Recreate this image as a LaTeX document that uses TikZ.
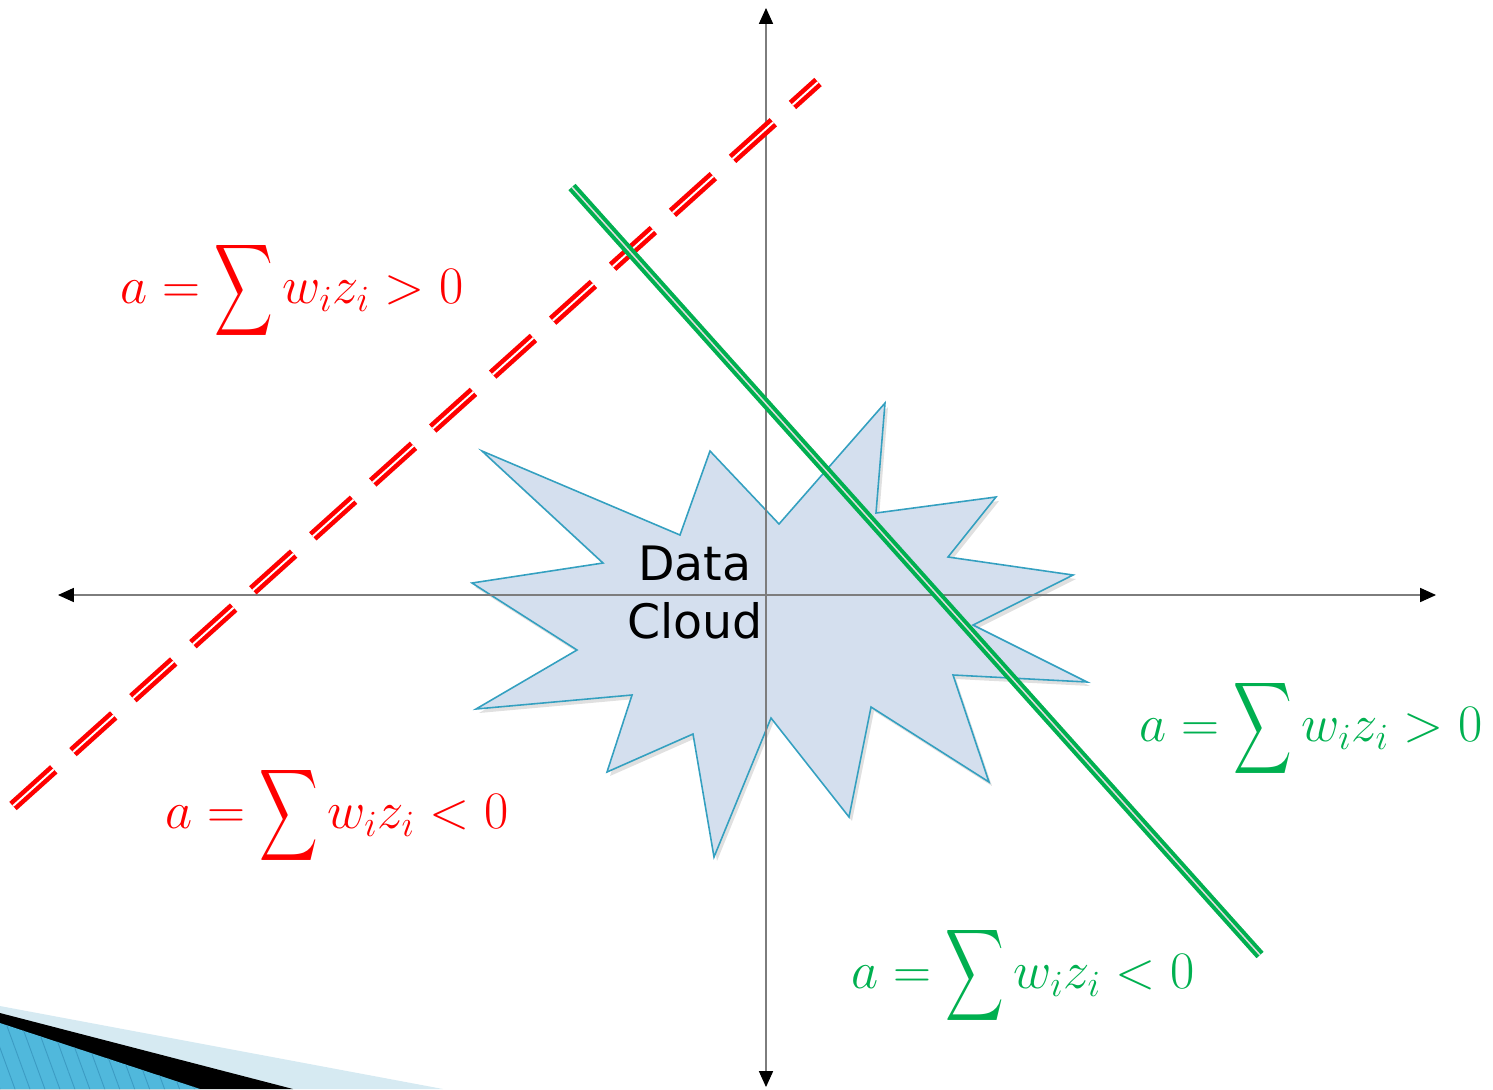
\RequirePackage{fix-cm}
\documentclass[tikz,border=0pt]{standalone}
\usepackage{exscale}
\usepackage{graphicx}
\usepackage{fontspec}
\newfontfamily\cloudfont{DejaVu Sans}
\usetikzlibrary{arrows.meta,patterns.meta}
\definecolor{pgreen}{HTML}{00B050}
\definecolor{pred}{HTML}{FF0000}
\definecolor{starfill}{RGB}{212,223,238}
\definecolor{stardraw}{RGB}{52,160,192}
\definecolor{axisgray}{RGB}{125,125,125}
\definecolor{decolight}{RGB}{214,234,242}
\definecolor{decoblue}{RGB}{80,184,220}
\definecolor{decostripe}{RGB}{60,155,195}
\newcommand\mybigsum{\mathop{\vcenter{\hbox{\scalebox{0.93}[1.47]{$\displaystyle\sum$}}}}}
\tikzset{
  axisline/.style={draw=axisgray, line width=0.6pt,
    {Triangle[length=9pt,width=8pt,color=black]}-{Triangle[length=9pt,width=8pt,color=black]}},
  starshape/.style={fill=starfill, draw=stardraw, line width=0.9pt, line join=miter},
  shadowline/.style={draw=black, opacity=0.12},
  redmain/.style={draw=pred, line width=6.3pt, dash pattern=on 31.2pt off 14.7pt},
  redstripe/.style={draw=white, line width=1.1pt, dash pattern=on 31.2pt off 14.7pt},
  greenmain/.style={draw=pgreen, line width=5.4pt},
  greenstripe/.style={draw=white!75!gray, line width=0.85pt},
  redlabel/.style={text=pred, font=\fontsize{30}{36}\selectfont},
  greenlabel/.style={text=pgreen, font=\fontsize{30}{36}\selectfont},
  cloudlabel/.style={align=center, font=\cloudfont\fontsize{27}{33}\selectfont, text=black}
}
\begin{document}
\begin{tikzpicture}[x=0.02cm,y=-0.02cm]
\useasboundingbox (0,0) rectangle (1493,1089);
% bottom-left template decoration
\fill[decolight] (0,1006) -- (443,1089) -- (0,1089) -- cycle;
\fill[black] (0,1013) -- (293,1089) -- (0,1089) -- cycle;
\fill[decoblue] (0,1023) -- (200,1089) -- (0,1089) -- cycle;
\fill[pattern={Lines[angle=-70,distance=8pt,line width=0.5pt]}, pattern color=decostripe] (0,1023) -- (200,1089) -- (0,1089) -- cycle;
% data cloud star
\fill[black, opacity=0.12] ([shift={(3,4)}]482,451) -- ++(198,84) -- ++(30,-84) -- ++(69,73) -- ++(106,-121) -- ++(-9,110) -- ++(120,-16) -- ++(-48,60) -- ++(125,18) -- ++(-100,50) -- ++(114,57) -- ++(-134,-7) -- ++(36,107) -- ++(-118,-75) -- ++(-22,110) -- ++(-78,-100) -- ++(-57,140) -- ++(-21,-123) -- ++(-86,38) -- ++(25,-77) -- ++(-156,14) -- ++(101,-59) -- ++(-105,-67) -- ++(131,-20) -- cycle;
\path[starshape] (482,451) -- (680,535) -- (710,451) -- (779,524) -- (885,403)
  -- (876,513) -- (996,497) -- (948,557) -- (1073,575) -- (973,625)
  -- (1087,682) -- (953,675) -- (989,782) -- (871,707) -- (849,817)
  -- (771,718) -- (714,857) -- (693,734) -- (607,772) -- (632,695)
  -- (476,709) -- (577,650) -- (472,583) -- (603,563) -- cycle;
\node[cloudlabel] (cloud) at (695,593) {Data\\Cloud};
% axes
\coordinate (xl) at (58,595);
\coordinate (xr) at (1436,595);
\coordinate (yt) at (766,8);
\coordinate (yb) at (766,1087);
\draw[axisline] (xl) -- (xr);
\draw[axisline] (yb) -- (yt);
% red dashed separator
\coordinate (ra) at (13,806);
\coordinate (rb) at (818,82);
\draw[redmain, shadowline, shift={(3,4)}] (ra) -- (rb);
\draw[redmain] (ra) -- (rb);
\draw[redstripe, shift={(-2,-2.2)}] (ra) -- (rb);
% green separator
\coordinate (ga) at (572,187);
\coordinate (gb) at (1260,955);
\draw[greenmain, shadowline, shift={(3,4)}] (ga) -- (gb);
\draw[greenmain] (ga) -- (gb);
\draw[greenstripe, shift={(-1.6,1.4)}] (ga) -- (gb);
% labels
\node[redlabel] (r1) at (292,290) {$a=\mybigsum w_iz_i>0$};
\node[redlabel] (r2) at (337,815) {$a=\mybigsum w_iz_i<0$};
\node[greenlabel] (g1) at (1311,728) {$a=\mybigsum w_iz_i>0$};
\node[greenlabel] (g2) at (1023,975) {$a=\mybigsum w_iz_i<0$};
\end{tikzpicture}
\end{document}
